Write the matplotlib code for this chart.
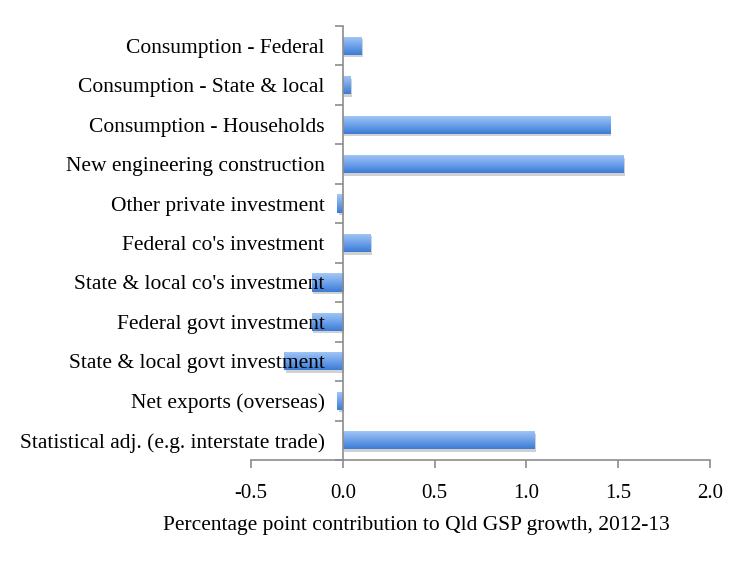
import numpy as np
import matplotlib
matplotlib.use('Agg')
import matplotlib.pyplot as plt
import matplotlib.transforms as mtransforms
from matplotlib.colors import LinearSegmentedColormap

categories = ['Consumption - Federal', 'Consumption - State & local',
              'Consumption - Households', 'New engineering construction',
              'Other private investment', "Federal co's investment",
              "State & local co's investment", 'Federal govt investment',
              'State & local govt investment', 'Net exports (overseas)',
              'Statistical adj. (e.g. interstate trade)']
values = [0.10, 0.04, 1.455, 1.53, -0.03, 0.15, -0.17, -0.17, -0.32, -0.03, 1.045]
xticks = [-0.5, 0.0, 0.5, 1.0, 1.5, 2.0]
xlabel = 'Percentage point contribution to Qld GSP growth, 2012-13'

plt.rcParams['font.family'] = ['Liberation Serif', 'DejaVu Serif']

fig = plt.figure(figsize=(7.5, 5.62), dpi=100)
ax = fig.add_axes([251 / 750, 1 - 460 / 562, (710 - 251) / 750, (460 - 26) / 562])

y = np.arange(len(categories))
h = 0.46

# shadow offset a little down and right
shadow_tr = mtransforms.offset_copy(ax.transData, fig=fig, x=1.5, y=-2.5, units='dots')
ax.barh(y, values, height=h, color='#000000', alpha=0.18, transform=shadow_tr, zorder=1.0)

bars = ax.barh(y, values, height=h, color='#5b95e0', zorder=1.1)

# gradient fill for each bar (light top, darker bottom)
cmap = LinearSegmentedColormap.from_list('g', ['#a5c8f7', '#6fa3ea', '#3c7bd6'])
grad = np.linspace(0, 1, 64).reshape(-1, 1)
for b in bars:
    x0, yb, w, hh = b.get_x(), b.get_y(), b.get_width(), b.get_height()
    im = ax.imshow(grad, cmap=cmap, aspect='auto', zorder=1.2,
                   extent=[x0, x0 + w, yb + hh, yb], origin='upper')
    im.set_clip_path(b)

ax.set_xlim(-0.5, 2.0)
ax.set_ylim(len(categories) - 0.5, -0.5)

ax.spines['top'].set_visible(False)
ax.spines['right'].set_visible(False)
ax.spines['left'].set_position(('data', 0))
for s in ['left', 'bottom']:
    ax.spines[s].set_color('#8c8c8c')
    ax.spines[s].set_linewidth(1.2)
    ax.spines[s].set_zorder(3)

ax.set_xticks(xticks)
ax.set_xticklabels(['%.1f' % v for v in xticks], fontsize=15)
ax.tick_params(axis='x', direction='out', length=6, color='#8c8c8c', width=1.2, pad=11)

# category boundaries as ticks, labels at centres
ax.set_yticks(np.arange(len(categories) + 1) - 0.5)
ax.set_yticklabels([])
ax.set_yticks(y, minor=True)
ax.set_yticklabels(categories, minor=True, fontsize=15.5)
ax.tick_params(axis='y', which='major', direction='out', length=6, color='#8c8c8c', width=1.2)
ax.tick_params(axis='y', which='minor', length=0, pad=13)
ax.yaxis.set_zorder(5)
ax.xaxis.set_zorder(5)

ax.set_xlabel(xlabel, fontsize=15.5)
ax.xaxis.set_label_coords((416 - 251) / 459, -0.128)

fig.savefig('out.png', dpi=100)
